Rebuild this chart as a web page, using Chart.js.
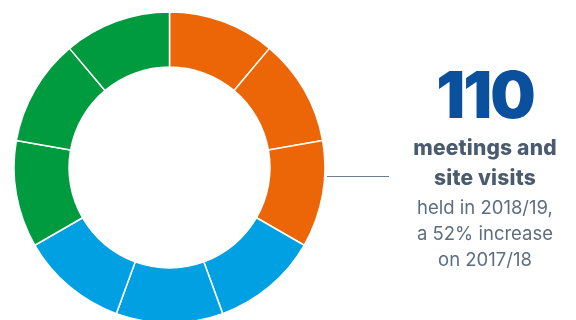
<!DOCTYPE html>
<html>
<head>
<meta charset="utf-8">
<script src="https://cdn.jsdelivr.net/npm/chart.js@4.4.1/dist/chart.umd.min.js"></script>
<style>
  html, body { margin: 0; padding: 0; background: #fff; }
  #wrap { position: relative; width: 576px; height: 320px; overflow: hidden; }
  #grafico { position: absolute; left: 0; top: 0; }
  .texto { position: absolute; left: 385px; width: 200px; text-align: center; font-family: Inter, "Noto Sans", sans-serif; }
  #total { top: 55px; font-size: 64px; font-weight: 900; color: #0a509c; letter-spacing: -2px; line-height: 80px; }
  #titulo { top: 133px; font-size: 21px; font-weight: 800; color: #4b5b6e; line-height: 30px; letter-spacing: 0.2px; }
  #nota { top: 194px; font-size: 18.5px; font-weight: 400; color: #5e6e80; line-height: 26px; }
</style>
</head>
<body>
<div id="wrap">
  <canvas id="grafico" width="576" height="320"></canvas>
  <div class="texto" id="total">110</div>
  <div class="texto" id="titulo">meetings and<br>site visits</div>
  <div class="texto" id="nota">held in 2018/19,<br>a 52% increase<br>on 2017/18</div>
</div>
<script>
// segmentos do anel, três grupos de três
const segmentos = ['A1', 'A2', 'A3', 'B1', 'B2', 'B3', 'C1', 'C2', 'C3'];
const valores = [1, 1, 1, 1, 1, 1, 1, 1, 1];
const grupos = [0, 0, 0, 1, 1, 1, 2, 2, 2];
const coresGrupo = ['#ec6608', '#00a0e3', '#009a3f'];

// linha que liga o anel ao texto
const linhaLegenda = {
  id: 'linhaLegenda',
  afterDatasetsDraw(chart) {
    const arco = chart.getDatasetMeta(0).data[0];
    if (!arco) return;
    const ctx = chart.ctx;
    const x0 = arco.x + arco.outerRadius + 2;
    const y = Math.round(arco.y + 8) + 0.5;
    ctx.save();
    ctx.strokeStyle = '#6e7e90';
    ctx.lineWidth = 1.2;
    ctx.beginPath();
    ctx.moveTo(x0, y);
    ctx.lineTo(389, y);
    ctx.stroke();
    ctx.restore();
  }
};

const grafico = new Chart(document.getElementById('grafico').getContext('2d'), {
  type: 'doughnut',
  data: {
    labels: segmentos,
    datasets: [{
      data: valores,
      backgroundColor: grupos.map(g => coresGrupo[g]),
      borderColor: '#ffffff',
      borderWidth: 1.5
    }]
  },
  options: {
    responsive: false,
    animation: false,
    radius: 155.5,
    cutout: '64.6%',
    layout: {
      padding: { left: 0, right: 237, top: 15, bottom: 0 }
    },
    plugins: {
      legend: { display: false },
      tooltip: { enabled: false }
    }
  },
  plugins: [linhaLegenda]
});
</script>
</body>
</html>
